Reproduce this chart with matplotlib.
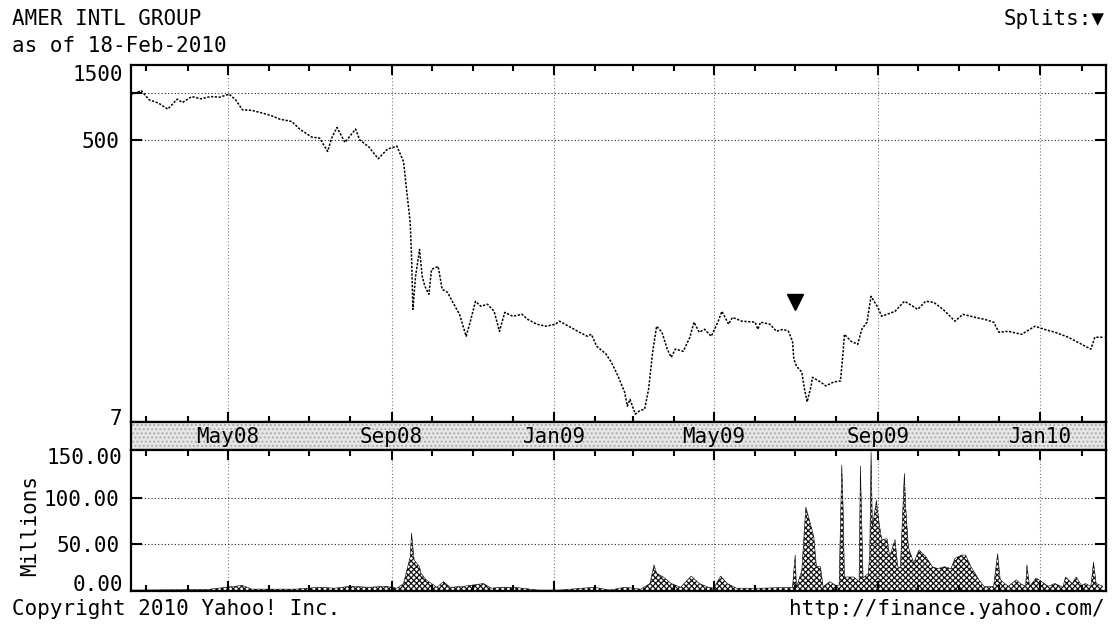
# AIG two-year price / volume chart, old Yahoo style
import numpy as np
import pandas as pd
import matplotlib
matplotlib.use('Agg')
import matplotlib.pyplot as plt
import matplotlib.dates as mdates

# price (split adjusted)
price_dates = [
    '2008-02-18', '2008-02-26', '2008-03-03', '2008-03-10', '2008-03-17', '2008-03-24',
    '2008-03-28', '2008-04-04', '2008-04-11', '2008-04-18', '2008-04-25', '2008-05-02',
    '2008-05-07', '2008-05-12', '2008-05-19', '2008-05-27', '2008-06-03', '2008-06-09',
    '2008-06-18', '2008-06-24', '2008-07-03', '2008-07-09', '2008-07-15', '2008-07-18',
    '2008-07-22', '2008-07-28', '2008-08-05', '2008-08-08', '2008-08-15', '2008-08-22',
    '2008-08-29', '2008-09-05', '2008-09-10', '2008-09-12', '2008-09-15', '2008-09-16',
    '2008-09-17', '2008-09-19', '2008-09-22', '2008-09-24', '2008-09-26', '2008-09-29',
    '2008-10-01', '2008-10-06', '2008-10-09', '2008-10-13', '2008-10-17', '2008-10-22',
    '2008-10-27', '2008-10-30', '2008-11-03', '2008-11-07', '2008-11-12', '2008-11-17',
    '2008-11-21', '2008-11-25', '2008-12-01', '2008-12-08', '2008-12-12', '2008-12-19',
    '2008-12-26', '2009-01-02', '2009-01-05', '2009-01-12', '2009-01-20', '2009-01-26',
    '2009-01-29', '2009-02-02', '2009-02-09', '2009-02-13', '2009-02-18', '2009-02-23',
    '2009-02-25', '2009-02-27', '2009-03-03', '2009-03-06', '2009-03-10', '2009-03-13',
    '2009-03-16', '2009-03-19', '2009-03-23', '2009-03-27', '2009-03-30', '2009-04-02',
    '2009-04-08', '2009-04-13', '2009-04-16', '2009-04-20', '2009-04-24', '2009-04-29',
    '2009-05-04', '2009-05-07', '2009-05-12', '2009-05-15', '2009-05-22', '2009-06-01',
    '2009-06-03', '2009-06-05', '2009-06-12', '2009-06-17', '2009-06-22', '2009-06-26',
    '2009-06-29', '2009-06-30', '2009-07-02', '2009-07-06', '2009-07-08', '2009-07-10',
    '2009-07-13', '2009-07-14', '2009-07-20', '2009-07-24', '2009-07-30', '2009-08-04',
    '2009-08-06', '2009-08-07', '2009-08-12', '2009-08-17', '2009-08-20', '2009-08-24',
    '2009-08-26', '2009-08-27', '2009-09-01', '2009-09-04', '2009-09-14', '2009-09-21',
    '2009-09-25', '2009-10-01', '2009-10-07', '2009-10-13', '2009-10-20', '2009-10-29',
    '2009-11-04', '2009-11-13', '2009-11-20', '2009-11-27', '2009-12-01', '2009-12-08',
    '2009-12-18', '2009-12-28', '2010-01-04', '2010-01-12', '2010-01-22', '2010-02-01',
    '2010-02-08', '2010-02-11', '2010-02-18',
]
price_values = [
    967, 1030, 899, 857, 784, 908,
    864, 943, 912, 943, 935, 977,
    899, 776, 770, 740, 711, 677,
    654, 585, 520, 512, 421, 512,
    599, 481, 585, 500, 449, 378,
    436, 455, 362, 251, 148, 90,
    41.3, 67, 99.6, 67, 58, 51.5,
    74.3, 77.6, 55.4, 53, 45.8, 38.4,
    27.8, 34.2, 46.5, 43.2, 44.5, 40.1,
    29.9, 39.5, 37.3, 38.4, 35.7, 33.2,
    32.2, 33.2, 34.7, 32.2, 29.5, 27.8,
    28.6, 24.0, 21.4, 19.0, 15.5, 12.2,
    9.95, 11.0, 8.85, 9.26, 9.53, 12.8,
    22.0, 32.2, 29.5, 23.0, 20.4, 23.0,
    22.3, 27.4, 34.2, 29.5, 30.8, 27.8,
    34.2, 40.1, 33.2, 36.7, 34.7, 34.2,
    30.8, 34.2, 33.2, 29.9, 30.8, 29.9,
    25.8, 19.9, 17.9, 16.4, 12.8, 10.6,
    13.4, 15.2, 14.2, 13.4, 14.2, 14.4,
    22.0, 28.6, 25.8, 24.7, 30.8, 34.2,
    44.5, 50.0, 42.6, 37.3, 40.1, 46.5,
    44.5, 41.3, 46.5, 45.8, 41.3, 34.7,
    38.4, 36.7, 35.7, 34.2, 29.5, 29.9,
    28.6, 32.2, 30.8, 29.5, 27.4, 24.7,
    23.0, 27.4, 27.4,
]

# volume in millions
vol_dates = [
    '2008-02-18', '2008-04-15', '2008-05-12', '2008-05-19', '2008-06-20', '2008-07-10',
    '2008-07-20', '2008-08-01', '2008-08-15', '2008-08-28', '2008-09-05', '2008-09-10',
    '2008-09-15', '2008-09-16', '2008-09-18', '2008-09-22', '2008-09-23', '2008-09-27',
    '2008-10-01', '2008-10-05', '2008-10-10', '2008-10-15', '2008-10-25', '2008-11-09',
    '2008-11-15', '2008-11-22', '2008-12-02', '2008-12-20', '2009-01-05', '2009-01-31',
    '2009-02-12', '2009-02-23', '2009-03-07', '2009-03-14', '2009-03-17', '2009-03-19',
    '2009-03-24', '2009-03-30', '2009-04-06', '2009-04-14', '2009-04-20', '2009-04-27',
    '2009-05-01', '2009-05-06', '2009-05-11', '2009-05-18', '2009-06-05', '2009-06-29',
    '2009-07-01', '2009-07-02', '2009-07-06', '2009-07-09', '2009-07-13', '2009-07-15',
    '2009-07-17', '2009-07-20', '2009-07-22', '2009-07-27', '2009-07-31', '2009-08-03',
    '2009-08-05', '2009-08-06', '2009-08-07', '2009-08-14', '2009-08-18', '2009-08-19',
    '2009-08-20', '2009-08-21', '2009-08-25', '2009-08-26', '2009-08-27', '2009-08-28',
    '2009-08-31', '2009-09-02', '2009-09-04', '2009-09-08', '2009-09-10', '2009-09-14',
    '2009-09-16', '2009-09-18', '2009-09-21', '2009-09-22', '2009-09-24', '2009-09-28',
    '2009-10-02', '2009-10-07', '2009-10-12', '2009-10-16', '2009-10-21', '2009-10-26',
    '2009-10-29', '2009-11-03', '2009-11-06', '2009-11-10', '2009-11-16', '2009-11-20',
    '2009-11-24', '2009-11-27', '2009-11-30', '2009-12-02', '2009-12-08', '2009-12-14',
    '2009-12-17', '2009-12-21', '2009-12-22', '2009-12-24', '2009-12-29', '2010-01-04',
    '2010-01-07', '2010-01-12', '2010-01-18', '2010-01-20', '2010-01-25', '2010-01-28',
    '2010-02-01', '2010-02-04', '2010-02-08', '2010-02-10', '2010-02-12', '2010-02-17',
]
vol_values = [
    1, 1.5, 6, 2, 2, 4,
    3, 5, 4, 5, 3, 8,
    36.7, 62, 33, 26, 19, 12,
    8, 4, 10, 4, 5, 8,
    3, 4, 4, 1, 1, 4,
    1, 4, 2, 8, 28, 19,
    15, 8, 4, 16, 8, 4,
    3, 16, 8, 3, 3, 4,
    38.5, 4, 22, 90, 69, 58,
    26, 26, 4.6, 10, 6.4, 6,
    135, 90, 15, 15, 10, 134,
    73, 14, 19, 40, 149, 69,
    97, 73, 55, 56, 37, 55,
    26, 25, 126, 90, 47, 30,
    44, 37, 26, 24, 26, 24,
    35, 38.5, 38.5, 26, 12, 4.6,
    4.6, 5, 40, 12, 5, 12,
    8, 5, 28, 5, 14, 8,
    5, 8, 4, 15, 8, 15,
    6, 8, 5, 31, 8, 5,
]

split_dates = ['2009-07-01']
split_level = [45.8]

month_labels = ['May08', 'Sep08', 'Jan09', 'May09', 'Sep09', 'Jan10']
month_label_dates = ['2008-05-01', '2008-09-01', '2009-01-01',
                     '2009-05-01', '2009-09-01', '2010-01-01']

start, end = pd.Timestamp('2008-02-18'), pd.Timestamp('2010-02-19')

pd_dates = pd.to_datetime(price_dates)
vd_dates = pd.to_datetime(vol_dates)

plt.rcParams['font.family'] = ['DejaVu Sans Mono']
plt.rcParams['font.size'] = 15
plt.rcParams['hatch.linewidth'] = 0.9

fig = plt.figure(figsize=(11.17, 6.26), dpi=100)
W, H = 1117.0, 626.0
left, right = 130.5 / W, 1105.5 / W

def make_axes(top_px, bot_px):
    return fig.add_axes([left, 1 - bot_px / H, right - left, (bot_px - top_px) / H])

ax = make_axes(65, 422)
band = make_axes(422, 450)
axv = make_axes(450, 591)

hgrid = dict(color='#222222', linestyle=(0, (1, 2)), linewidth=0.8)
vgrid = dict(color='#777777', linestyle=(0, (1, 2)), linewidth=0.8)

def style_dates(a, major_len=7, minor_len=4):
    a.set_xlim(start, end)
    a.xaxis.set_major_locator(mdates.MonthLocator(bymonth=[1, 5, 9]))
    a.xaxis.set_minor_locator(mdates.MonthLocator())
    a.xaxis.set_major_formatter(plt.NullFormatter())
    a.tick_params(axis='x', which='major', direction='in', top=True, bottom=True,
                  length=major_len, width=1.5)
    a.tick_params(axis='x', which='minor', direction='in', top=True, bottom=True,
                  length=minor_len, width=1.5)
    for s in a.spines.values():
        s.set_linewidth(1.6)

# price panel
ax.plot(pd_dates, price_values, color='black', linewidth=1.1, linestyle=(0, (1.5, 1)))
ax.set_yscale('log')
ax.set_ylim(7.88, 1500)
ax.set_yticks([1000, 500])
ax.set_yticklabels(['', '500'])
ax.yaxis.set_minor_locator(plt.NullLocator())
ax.tick_params(axis='y', which='major', direction='in', left=True, right=True,
               length=8, width=1.5, pad=8)
style_dates(ax)
ax.grid(True, axis='y', which='major', **hgrid)
ax.grid(True, axis='x', which='major', **vgrid)
ax.text(-0.008, 0.972, '1500', transform=ax.transAxes, ha='right', va='center')
ax.text(-0.008, 0.008, '7', transform=ax.transAxes, ha='right', va='center')
ax.plot(pd.to_datetime(split_dates), split_level, marker='v', color='black',
        markersize=11, linestyle='none')

# date band
band.set_facecolor('#e6e6e6')
band.add_patch(plt.Rectangle((0, 0), 1, 1, transform=band.transAxes, facecolor='none',
                             edgecolor='#aaaaaa', hatch='....', linewidth=0))
band.set_yticks([])
style_dates(band, major_len=0, minor_len=0)
for lab, d in zip(month_labels, month_label_dates):
    band.text(pd.Timestamp(d), 0.45, lab, ha='center', va='center',
              transform=band.get_xaxis_transform())

# volume panel
axv.fill_between(vd_dates, vol_values, 0, facecolor='white', edgecolor='#111111',
                 hatch='xxxxxx', linewidth=0)
axv.plot(vd_dates, vol_values, color='black', linewidth=0.4)
axv.set_ylim(0, 151)
axv.set_yticks([50, 100])
axv.set_yticklabels(['50.00', '100.00'])
axv.tick_params(axis='y', which='major', direction='in', left=True, right=True,
                length=8, width=1.5, pad=8)
style_dates(axv)
axv.grid(True, axis='y', which='major', **hgrid)
axv.grid(True, axis='x', which='major', **vgrid)
axv.text(-0.008, 0.943, '150.00', transform=axv.transAxes, ha='right', va='center')
axv.text(-0.008, 0.045, '0.00', transform=axv.transAxes, ha='right', va='center')
fig.text(30 / W, 1 - 525 / H, 'Millions', rotation=90, ha='center', va='center')

# header / footer
fig.text(12 / W, 1 - 19 / H, 'AMER INTL GROUP', ha='left', va='center')
fig.text(12 / W, 1 - 46 / H, 'as of 18-Feb-2010', ha='left', va='center')
fig.text(1105 / W, 1 - 19 / H, 'Splits:\u25bc', ha='right', va='center')
fig.text(12 / W, 1 - 609 / H, 'Copyright 2010 Yahoo! Inc.', ha='left', va='center')
fig.text(1105 / W, 1 - 609 / H, 'http://finance.yahoo.com/', ha='right', va='center')

fig.savefig('out.png', dpi=100)
